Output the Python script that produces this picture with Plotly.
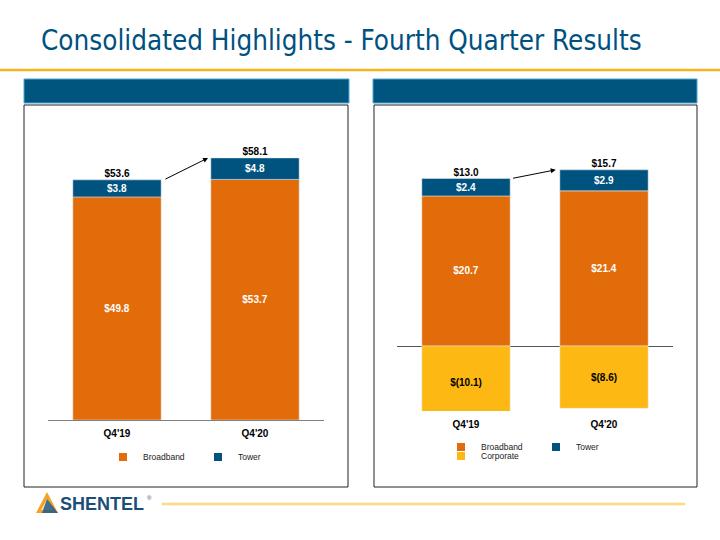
import plotly.graph_objects as go

W, H = 720, 540

# ---------------- data ----------------
categories = ["Q4'19", "Q4'20"]

# Left panel (revenue, $M)
rev_broadband = [49.8, 53.7]
rev_tower = [3.8, 4.8]
rev_broadband_labels = ["$49.8", "$53.7"]
rev_tower_labels = ["$3.8", "$4.8"]
rev_total_labels = ["$53.6", "$58.1"]

# Right panel (adjusted EBITDA, $M)
eb_broadband = [20.7, 21.4]
eb_tower = [2.4, 2.9]
eb_corporate = [-10.1, -8.6]
eb_broadband_labels = ["$20.7", "$21.4"]
eb_tower_labels = ["$2.4", "$2.9"]
eb_corporate_labels = ["$(10.1)", "$(8.6)"]
eb_total_labels = ["$13.0", "$15.7"]

series_names = ["Broadband", "Tower", "Corporate"]
title_text = "Consolidated Highlights - Fourth Quarter Results"

# ---------------- style ----------------
ORANGE = "#E36C0A"
BLUE = "#00527F"
YELLOW = "#FDB813"
TITLE_BLUE = "#00517F"
FONT = "Liberation Sans"


def px_x(v):
    return v / W


def px_y(v):
    return 1 - v / H


bar_font_white = dict(family=FONT, size=10, color="white", weight="bold")
bar_font_black = dict(family=FONT, size=10, color="black", weight="bold")

fig = go.Figure()

# ----- left chart -----
fig.add_trace(go.Bar(x=categories, y=rev_broadband, name=series_names[0], marker_color=ORANGE,
                     text=rev_broadband_labels, textposition="inside", insidetextanchor="middle",
                     textangle=0, textfont=bar_font_white, width=0.64, showlegend=False,
                     hoverinfo="skip", xaxis="x", yaxis="y"))
fig.add_trace(go.Bar(x=categories, y=rev_tower, name=series_names[1], marker_color=BLUE,
                     text=rev_tower_labels, textposition="inside", insidetextanchor="middle",
                     textangle=0, textfont=bar_font_white, width=0.64, showlegend=False,
                     hoverinfo="skip", xaxis="x", yaxis="y"))
rev_tops = [b + t for b, t in zip(rev_broadband, rev_tower)]
fig.add_trace(go.Scatter(x=categories, y=rev_tops, mode="text", text=rev_total_labels,
                         textposition="top center", textfont=bar_font_black,
                         showlegend=False, hoverinfo="skip", xaxis="x", yaxis="y"))

# ----- right chart -----
fig.add_trace(go.Bar(x=categories, y=eb_broadband, name=series_names[0], marker_color=ORANGE,
                     text=eb_broadband_labels, textposition="inside", insidetextanchor="middle",
                     textangle=0, textfont=bar_font_white, width=0.64, showlegend=False,
                     hoverinfo="skip", xaxis="x2", yaxis="y2"))
fig.add_trace(go.Bar(x=categories, y=eb_tower, name=series_names[1], marker_color=BLUE,
                     text=eb_tower_labels, textposition="inside", insidetextanchor="middle",
                     textangle=0, textfont=bar_font_white, width=0.64, showlegend=False,
                     hoverinfo="skip", xaxis="x2", yaxis="y2"))
fig.add_trace(go.Bar(x=categories, y=eb_corporate, name=series_names[2], marker_color=YELLOW,
                     text=eb_corporate_labels, textposition="inside", insidetextanchor="middle",
                     textangle=0, textfont=bar_font_black, width=0.64, showlegend=False,
                     hoverinfo="skip", xaxis="x2", yaxis="y2"))
eb_tops = [b + t for b, t in zip(eb_broadband, eb_tower)]
fig.add_trace(go.Scatter(x=categories, y=eb_tops, mode="text", text=eb_total_labels,
                         textposition="top center", textfont=bar_font_black,
                         showlegend=False, hoverinfo="skip", xaxis="x2", yaxis="y2"))

# ----- legend entries (small square swatches) -----
def legend_entry(name, color, legend, xa, ya):
    fig.add_trace(go.Scatter(x=[None], y=[None], mode="markers", name=name,
                             marker=dict(symbol="square", size=8, color=color),
                             legend=legend, xaxis=xa, yaxis=ya, hoverinfo="skip"))

legend_entry(series_names[0], ORANGE, "legend", "x", "y")
legend_entry(series_names[1], BLUE, "legend", "x", "y")
legend_entry(series_names[0], ORANGE, "legend2", "x2", "y2")
legend_entry(series_names[1], BLUE, "legend2", "x2", "y2")
legend_entry(series_names[2], YELLOW, "legend3", "x2", "y2")

leg_common = dict(orientation="h", xanchor="left", yanchor="middle", traceorder="normal",
                  bgcolor="rgba(0,0,0,0)", borderwidth=0, entrywidth=50, entrywidthmode="pixels",
                  font=dict(family=FONT, size=8.5, color="#222222"), itemclick=False,
                  itemdoubleclick=False)

# ----- axes -----
L_SCALE = 4.48   # px per unit, left
R_SCALE = 7.25   # px per unit, right
L_BASE, R_BASE, TOP = 420, 346, 130
R_BOTTOM = 411

tickfont = dict(family=FONT, size=10, color="black", weight="bold")

layout_axes = dict(
    xaxis=dict(domain=[px_x(48), px_x(324)], anchor="y", range=[-0.5, 1.5], type="category",
               showline=True, linecolor="#808080", linewidth=1, ticks="", showgrid=False,
               tickfont=tickfont, ticklabelstandoff=4, fixedrange=True),
    yaxis=dict(domain=[px_y(L_BASE), px_y(TOP)], anchor="x", range=[0, (L_BASE - TOP) / L_SCALE],
               visible=False, fixedrange=True),
    xaxis2=dict(domain=[px_x(397), px_x(673)], anchor="y2", range=[-0.5, 1.5], type="category",
                showline=False, ticks="", showgrid=False, tickfont=tickfont,
                ticklabelstandoff=6, fixedrange=True),
    yaxis2=dict(domain=[px_y(R_BOTTOM), px_y(TOP)], anchor="x2",
                range=[-(R_BOTTOM - R_BASE) / R_SCALE, (R_BASE - TOP) / R_SCALE],
                showticklabels=False, showgrid=False, zeroline=True, zerolinecolor="#555555",
                zerolinewidth=1, showline=False, fixedrange=True),
)

# ----- arrows between totals -----
annotations = [
    dict(x=0.66, y=rev_tops[1], ax=0.34, ay=rev_tops[0], xref="x", yref="y", axref="x", ayref="y",
         text="", showarrow=True, arrowhead=2, arrowsize=1, arrowwidth=1, arrowcolor="black",
         standoff=0, startstandoff=0),
    dict(x=0.65, y=eb_tops[1], ax=0.33, ay=eb_tops[0], xref="x2", yref="y2", axref="x2", ayref="y2",
         text="", showarrow=True, arrowhead=2, arrowsize=1, arrowwidth=1, arrowcolor="black",
         standoff=0, startstandoff=0),
    # title
    dict(x=px_x(39), y=px_y(40), xref="paper", yref="paper", xanchor="left", yanchor="middle",
         text=title_text, showarrow=False,
         font=dict(family="DejaVu Sans Condensed", size=27.6, color=TITLE_BLUE)),
    # logo text
    dict(x=px_x(58), y=px_y(504), xref="paper", yref="paper", xanchor="left", yanchor="middle",
         text="SHENTEL", showarrow=False,
         font=dict(family=FONT, size=18, color="#1D4E77", weight="bold")),
    dict(x=px_x(145), y=px_y(498), xref="paper", yref="paper", xanchor="left", yanchor="middle",
         text="®", showarrow=False, font=dict(family=FONT, size=6, color="#1D4E77")),
]

# ----- decorative shapes -----
def rect(x0, y0, x1, y1, **kw):
    return dict(type="rect", xref="paper", yref="paper", x0=px_x(x0), x1=px_x(x1),
                y0=px_y(y1), y1=px_y(y0), **kw)

def line(x0, y0, x1, y1, color, width):
    return dict(type="line", xref="paper", yref="paper", x0=px_x(x0), x1=px_x(x1),
                y0=px_y(y0), y1=px_y(y1), line=dict(color=color, width=width))

def path(points, fill):
    d = "M " + " L ".join(f"{px_x(a):.5f},{px_y(b):.5f}" for a, b in points) + " Z"
    return dict(type="path", xref="paper", yref="paper", path=d, fillcolor=fill,
                line=dict(width=0))

shapes = [
    line(0, 70, 720, 70, "#F6B41C", 2.5),
    rect(24, 79, 349, 103, fillcolor="#00557F", line=dict(color="#4DA6D6", width=1)),
    rect(373, 79, 697, 103, fillcolor="#00557F", line=dict(color="#4DA6D6", width=1)),
    rect(24, 105, 348, 487, fillcolor="rgba(0,0,0,0)", line=dict(color="#222222", width=1)),
    rect(374, 105, 697, 487, fillcolor="rgba(0,0,0,0)", line=dict(color="#222222", width=1)),
    line(162, 504, 685, 504, "#FFD97F", 2.5),
    path([(36, 513), (47, 492), (58, 513)], "#F5A22A"),
    path([(41, 510), (47, 499), (53, 510)], "#FDE3A6"),
    path([(47, 499), (58, 513), (42, 513)], "rgba(30,90,140,0.85)"),
]

fig.update_layout(
    width=W, height=H, margin=dict(l=0, r=0, t=0, b=0),
    paper_bgcolor="white", plot_bgcolor="rgba(0,0,0,0)",
    barmode="relative", bargap=0.36,
    uniformtext=dict(mode="show", minsize=10),
    showlegend=True,
    legend=dict(x=px_x(103), y=px_y(457), **leg_common),
    legend2=dict(x=px_x(441), y=px_y(447), **leg_common),
    legend3=dict(x=px_x(441), y=px_y(456), **leg_common),
    annotations=annotations, shapes=shapes,
    **layout_axes,
)

fig.write_html("out.html", post_script="document.body.style.margin='0px';",
               config={"displayModeBar": False})
